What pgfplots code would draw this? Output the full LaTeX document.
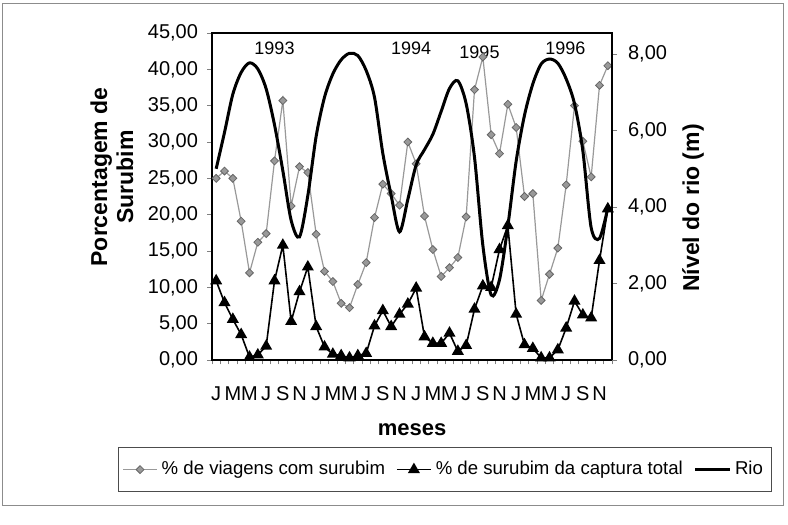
\documentclass[border=0pt]{standalone}
\usepackage{fontspec}
\setmainfont{Liberation Sans}
\usepackage{pgfplots}
\usepackage{pgfplotstable}
\pgfplotsset{compat=1.18}

\pgfplotstableread{
k via cap rio
1 25.0 10.9 5.00
2 26.0 7.9 5.95
3 25.0 5.6 6.95
4 19.1 3.5 7.52
5 12.0 0.4 7.77
6 16.2 0.7 7.61
7 17.4 1.9 7.09
8 27.4 10.9 6.15
9 35.7 15.8 4.95
10 21.2 5.3 3.65
11 26.6 9.4 3.22
12 25.8 12.8 4.30
13 17.3 4.6 5.85
14 12.2 1.8 6.87
15 10.8 0.8 7.48
16 7.8 0.6 7.85
17 7.2 0.3 8.02
18 10.4 0.6 7.96
19 13.4 0.9 7.57
20 19.6 4.7 6.87
21 24.2 6.8 5.40
22 22.9 4.6 4.30
23 21.3 6.3 3.35
24 30.0 7.7 4.20
25 27.0 9.9 5.10
26 19.8 3.2 5.50
27 15.2 2.3 5.90
28 11.5 2.3 6.50
29 12.7 3.7 7.10
30 14.1 1.2 7.30
31 19.7 2.0 6.70
32 37.2 7.0 5.30
33 41.7 10.2 3.00
34 31.0 10.0 1.70
35 28.4 15.2 2.10
36 35.2 18.5 3.50
37 32.0 6.3 5.20
38 22.5 2.1 6.40
39 22.9 1.6 7.22
40 8.2 0.3 7.74
41 11.8 0.3 7.87
42 15.4 1.4 7.76
43 24.1 4.4 7.35
44 35.0 8.1 6.70
45 30.1 6.2 5.47
46 25.2 5.8 3.46
47 37.8 13.7 3.18
48 40.5 20.8 3.98
}\data

\pgfplotsset{
  diam/.style={color=black!40, line width=0.6pt, mark=square*, mark size=1.4pt,
    mark options={rotate=45, fill=black!40, draw=black!60, line width=0.4pt, solid}},
  tri/.style={black, line width=0.8pt, mark=triangle*, mark size=2.7pt,
    mark options={fill=black, solid}},
  rio/.style={black, line width=1.5pt, smooth, no markers},
}

\begin{document}
\begin{tikzpicture}
\begin{axis}[
  scale only axis, width=200pt, height=163.5pt,
  xmin=0.5, xmax=48.5, ymin=0, ymax=45,
  xtick={1,3,...,47},
  xticklabels={J,M,M,J,S,N,J,M,M,J,S,N,J,M,M,J,S,N,J,M,M,J,S,N},
  major x tick style={draw=none},
  minor xtick={0.5,1.5,...,48.5},
  minor tick length=2.2pt,
  major tick length=2.5pt,
  xtick pos=bottom, ytick pos=left,
  tick align=outside,
  ytick={0,5,...,45},
  ticklabel style={font=\fontsize{10}{12}\selectfont},
  xticklabel style={yshift=-6.5pt, text height=7.6pt, text depth=0pt},
  yticklabel style={xshift=-1pt, /pgf/number format/fixed, /pgf/number format/fixed zerofill, /pgf/number format/precision=2, /pgf/number format/use comma, /pgf/number format/assume math mode=true},
  xlabel={\textbf{meses}},
  xlabel style={font=\fontsize{11}{13}\selectfont, at={(axis description cs:0.5,-0.214)}, anchor=center},
  ylabel={\textbf{Porcentagem de}\\\textbf{Surubim}},
  ylabel style={font=\fontsize{11.5}{13}\selectfont, align=center, at={(axis description cs:-0.25,0.56)}, anchor=center},
  axis line style={black, line width=0.7pt},
  clip=false,
]
\addplot[diam] table[x=k, y=via] {\data};
\addplot[tri] table[x=k, y=cap] {\data};
\node[font=\fontsize{9}{11}\selectfont] at (axis cs:8.0,42.9) {1993};
\node[font=\fontsize{9}{11}\selectfont] at (axis cs:24.4,42.9) {1994};
\node[font=\fontsize{9}{11}\selectfont] at (axis cs:32.6,42.4) {1995};
\node[font=\fontsize{9}{11}\selectfont] at (axis cs:42.9,42.9) {1996};
\coordinate (SW) at (rel axis cs:0,0);
\coordinate (NE) at (rel axis cs:1,1);
\end{axis}
\begin{axis}[
  scale only axis, width=200pt, height=163.5pt,
  xmin=0.5, xmax=48.5, ymin=0, ymax=8.55,
  axis x line=none,
  axis y line*=right,
  ytick={0,2,...,8},
  tick align=outside,
  major tick length=2.5pt,
  ticklabel style={font=\fontsize{10}{12}\selectfont},
  yticklabel style={xshift=2pt, /pgf/number format/fixed, /pgf/number format/fixed zerofill, /pgf/number format/precision=2, /pgf/number format/use comma, /pgf/number format/assume math mode=true},
  ylabel={\textbf{Nível do rio (m)}},
  ylabel style={font=\fontsize{11.5}{13}\selectfont, at={(axis description cs:1.2025,0.465)}, anchor=center},
  axis line style={black, line width=0.7pt},
  legend style={draw=black!70, line width=0.4pt, legend columns=3,
    at={(-0.235,-0.266)}, anchor=north west,
    font=\fontsize{9.3}{11}\selectfont, inner ysep=5pt, inner xsep=2pt,
    /tikz/every even column/.append style={column sep=3.5pt}},
  legend cell align=left,
]
\addlegendimage{diam}
\addlegendentry{\% de viagens com surubim}
\addlegendimage{tri}
\addlegendentry{\% de surubim da captura total}
\addplot[rio] table[x=k, y=rio] {\data};
\addlegendentry{Rio}
\end{axis}
\draw[black!45, line width=0.5pt] ([xshift=-104.5pt,yshift=-72.5pt]SW) rectangle ([xshift=85.5pt,yshift=15pt]NE);
\pgfresetboundingbox
\path[use as bounding box] ([xshift=-106pt,yshift=-82pt]SW) rectangle ([xshift=88pt,yshift=16.5pt]NE);
\end{tikzpicture}
\end{document}
